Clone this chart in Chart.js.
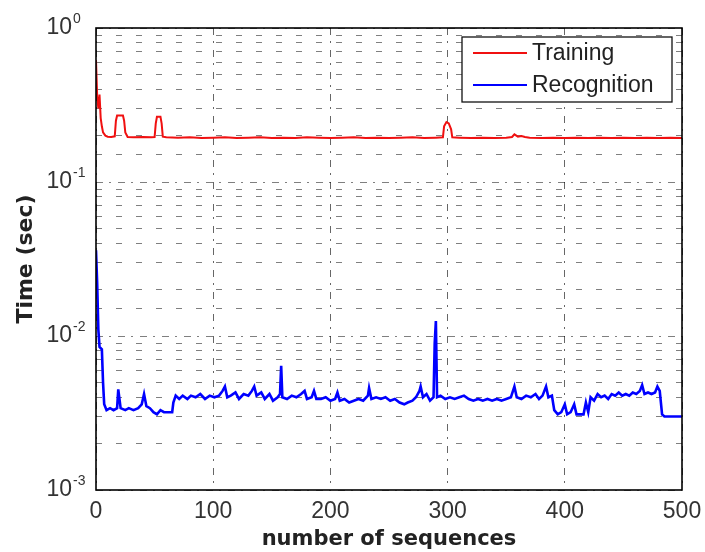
<!DOCTYPE html>
<html>
<head>
<meta charset="utf-8">
<script src="https://cdn.jsdelivr.net/npm/chart.js@4/dist/chart.umd.min.js"></script>
<style>
  html, body { margin: 0; padding: 0; background: #fff; }
  #wrap { width: 705px; height: 552px; }
</style>
</head>
<body>
<div id="wrap"><canvas id="myChart" width="705" height="552"></canvas></div>
<script>
// values
const trainX = [0, 1, 2, 3, 4, 5, 6, 8, 10, 13, 16, 17, 18, 23, 24, 25, 27, 32, 40, 47, 50, 51, 52, 55, 56, 57, 60, 70, 80, 90, 100, 110, 120, 130, 140, 150, 160, 170, 180, 190, 200, 210, 220, 230, 240, 250, 260, 270, 280, 290, 296, 297, 299, 301, 303, 304, 310, 320, 330, 340, 350, 355, 357, 360, 363, 366, 370, 380, 390, 400, 410, 420, 430, 440, 450, 460, 470, 480, 490, 500];
const trainY = [0.62, 0.36, 0.30, 0.37, 0.26, 0.23, 0.21, 0.20, 0.197, 0.196, 0.198, 0.25, 0.27, 0.27, 0.25, 0.21, 0.196, 0.195, 0.196, 0.195, 0.196, 0.24, 0.265, 0.265, 0.24, 0.197, 0.195, 0.194, 0.195, 0.193, 0.194, 0.195, 0.193, 0.194, 0.195, 0.193, 0.194, 0.193, 0.195, 0.194, 0.193, 0.194, 0.195, 0.193, 0.194, 0.193, 0.194, 0.195, 0.193, 0.194, 0.195, 0.23, 0.245, 0.24, 0.22, 0.195, 0.194, 0.193, 0.194, 0.193, 0.194, 0.196, 0.204, 0.197, 0.199, 0.196, 0.194, 0.193, 0.194, 0.193, 0.194, 0.193, 0.194, 0.193, 0.194, 0.193, 0.194, 0.193, 0.194, 0.193];

const recogX = [0, 1, 2, 3, 5, 6, 7, 9, 12, 15, 18, 19, 21, 25, 28, 32, 36, 39, 41, 43, 46, 49, 52, 55, 58, 62, 65, 66, 68, 71, 74, 78, 81, 85, 89, 93, 97, 101, 105, 108, 110, 112, 115, 119, 122, 126, 130, 133, 135, 137, 141, 144, 148, 151, 155, 157, 158, 159, 163, 167, 171, 175, 178, 180, 184, 186, 188, 192, 196, 200, 204, 206, 208, 212, 216, 220, 224, 228, 232, 233, 235, 239, 243, 247, 251, 255, 259, 263, 266, 270, 273, 276, 277, 279, 282, 285, 288, 289, 290, 291, 294, 298, 302, 306, 310, 314, 318, 322, 326, 330, 334, 338, 342, 346, 350, 354, 357, 359, 363, 367, 371, 375, 378, 381, 384, 386, 389, 391, 394, 397, 400, 402, 405, 408, 410, 413, 416, 418, 420, 422, 425, 428, 431, 434, 437, 440, 443, 446, 449, 452, 455, 458, 461, 464, 466, 468, 471, 474, 477, 479, 481, 483, 485, 490, 495, 500];
const recogY = [0.036, 0.022, 0.011, 0.0085, 0.0082, 0.0050, 0.0036, 0.0033, 0.0034, 0.0033, 0.0034, 0.0045, 0.0034, 0.0033, 0.0034, 0.0033, 0.0034, 0.0036, 0.0042, 0.0035, 0.0034, 0.0032, 0.0031, 0.0033, 0.0032, 0.0032, 0.0032, 0.0037, 0.0041, 0.0039, 0.0041, 0.0039, 0.0041, 0.0040, 0.0042, 0.0039, 0.0041, 0.0040, 0.0041, 0.0044, 0.0047, 0.0040, 0.0041, 0.0043, 0.0039, 0.0042, 0.0041, 0.0044, 0.0047, 0.0041, 0.0043, 0.0039, 0.0042, 0.0038, 0.0040, 0.0042, 0.0064, 0.0040, 0.0039, 0.0041, 0.0040, 0.0042, 0.0044, 0.0039, 0.0040, 0.0044, 0.0039, 0.0039, 0.0040, 0.0038, 0.0039, 0.0043, 0.0038, 0.0039, 0.0037, 0.0038, 0.0039, 0.0038, 0.0041, 0.0046, 0.0039, 0.0040, 0.0039, 0.0040, 0.0038, 0.0039, 0.0037, 0.0036, 0.0037, 0.0038, 0.0040, 0.0044, 0.0047, 0.0040, 0.0042, 0.0038, 0.0040, 0.0090, 0.0125, 0.0040, 0.0041, 0.0039, 0.0040, 0.0039, 0.0040, 0.0041, 0.0039, 0.0038, 0.0039, 0.0038, 0.0039, 0.0038, 0.0039, 0.0038, 0.0039, 0.0040, 0.0047, 0.0040, 0.0039, 0.0041, 0.0040, 0.0042, 0.0039, 0.0041, 0.0047, 0.0040, 0.0041, 0.0033, 0.0031, 0.0032, 0.0036, 0.0031, 0.0032, 0.0036, 0.0031, 0.0031, 0.0031, 0.0037, 0.0032, 0.0040, 0.0038, 0.0042, 0.0040, 0.0041, 0.0039, 0.0042, 0.0041, 0.0043, 0.0041, 0.0042, 0.0041, 0.0043, 0.0042, 0.0044, 0.0048, 0.0042, 0.0043, 0.0042, 0.0043, 0.0047, 0.0044, 0.0031, 0.0030, 0.0030, 0.0030, 0.0030];

const xTicks = [0, 100, 200, 300, 400, 500];
const yDecades = [1, 0.1, 0.01, 0.001];
const yExponents = ['0', '-1', '-2', '-3'];

const font = "'Liberation Sans', Arial, sans-serif";
const titleFont = "'DejaVu Sans', sans-serif";

function isDecade(v) {
  const l = Math.log10(v);
  return Math.abs(l - Math.round(l)) < 1e-9;
}

// box round the plot, exponents on the y labels, legend inside top right (matlab style)
const boxPlugin = {
  id: 'box',
  afterDraw(chart) {
    const { ctx, chartArea: a } = chart;
    const ys = chart.scales.y;
    ctx.save();
    ctx.strokeStyle = '#000';
    ctx.lineWidth = 1.6;
    ctx.strokeRect(a.left, a.top, a.right - a.left, a.bottom - a.top);

    ctx.fillStyle = '#333';
    ctx.font = '14px ' + font;
    ctx.textAlign = 'left';
    ctx.textBaseline = 'middle';
    yDecades.forEach((v, i) => {
      ctx.fillText(yExponents[i], 73, ys.getPixelForValue(v) - 9);
    });

    const lx = a.right - 220, ly = a.top + 9, lw = 210, lh = 65;
    ctx.fillStyle = '#fff';
    ctx.fillRect(lx, ly, lw, lh);
    ctx.lineWidth = 1.3;
    ctx.strokeStyle = '#111';
    ctx.strokeRect(lx, ly, lw, lh);
    ctx.font = '23px ' + font;
    chart.data.datasets.forEach((ds, i) => {
      const y = ly + 16 + i * 32;
      ctx.strokeStyle = ds.borderColor;
      ctx.lineWidth = 2;
      ctx.beginPath();
      ctx.moveTo(lx + 11, y);
      ctx.lineTo(lx + 65, y);
      ctx.stroke();
      ctx.fillStyle = '#222';
      ctx.fillText(ds.label, lx + 70, y + 1);
    });
    ctx.restore();
  }
};

new Chart(document.getElementById('myChart'), {
  type: 'line',
  data: {
    datasets: [{
      label: 'Training',
      data: trainX.map((x, i) => ({ x: x, y: trainY[i] })),
      borderColor: '#f01010',
      borderWidth: 2,
      pointRadius: 0,
      tension: 0
    }, {
      label: 'Recognition',
      data: recogX.map((x, i) => ({ x: x, y: recogY[i] })),
      borderColor: '#0000ff',
      borderWidth: 2.6,
      pointRadius: 0,
      tension: 0
    }]
  },
  options: {
    responsive: false,
    animation: false,
    layout: { padding: { left: 9, top: 28, right: 23, bottom: 0 } },
    plugins: { legend: { display: false }, tooltip: { enabled: false } },
    scales: {
      x: {
        type: 'linear',
        min: 0,
        max: 500,
        afterBuildTicks(scale) { scale.ticks = xTicks.map(v => ({ value: v })); },
        afterFit(scale) { scale.height = 62; scale.paddingLeft = 0; scale.paddingRight = 0; },
        ticks: { color: '#333', font: { family: font, size: 23 }, padding: 8, maxRotation: 0 },
        grid: { drawTicks: false, color: 'rgba(0,0,0,0.6)', lineWidth: 1 },
        border: { display: false, dash: [7, 6, 2, 7] },
        title: {
          display: true, text: 'number of sequences', color: '#222', padding: { top: 4, bottom: 0 },
          font: { family: titleFont, size: 21, weight: 'bold' }
        }
      },
      y: {
        type: 'logarithmic',
        min: 0.001,
        max: 1,
        afterFit(scale) { scale.width = 87; scale.paddingTop = 0; scale.paddingBottom = 0; },
        ticks: {
          autoSkip: false,
          color: '#333',
          padding: 24,
          font: { family: font, size: 23 },
          callback(v) { return isDecade(v) ? '10' : ''; }
        },
        grid: { drawTicks: false, color: 'rgba(0,0,0,0.5)', lineWidth: 1 },
        border: {
          display: false,
          dash: ctx => (ctx.tick && isDecade(ctx.tick.value)) ? [7, 6, 2, 7] : [6, 14]
        },
        title: {
          display: true, text: 'Time (sec)', color: '#222',
          font: { family: titleFont, size: 22, weight: 'bold' }
        }
      }
    }
  },
  plugins: [boxPlugin]
});
</script>
</body>
</html>
